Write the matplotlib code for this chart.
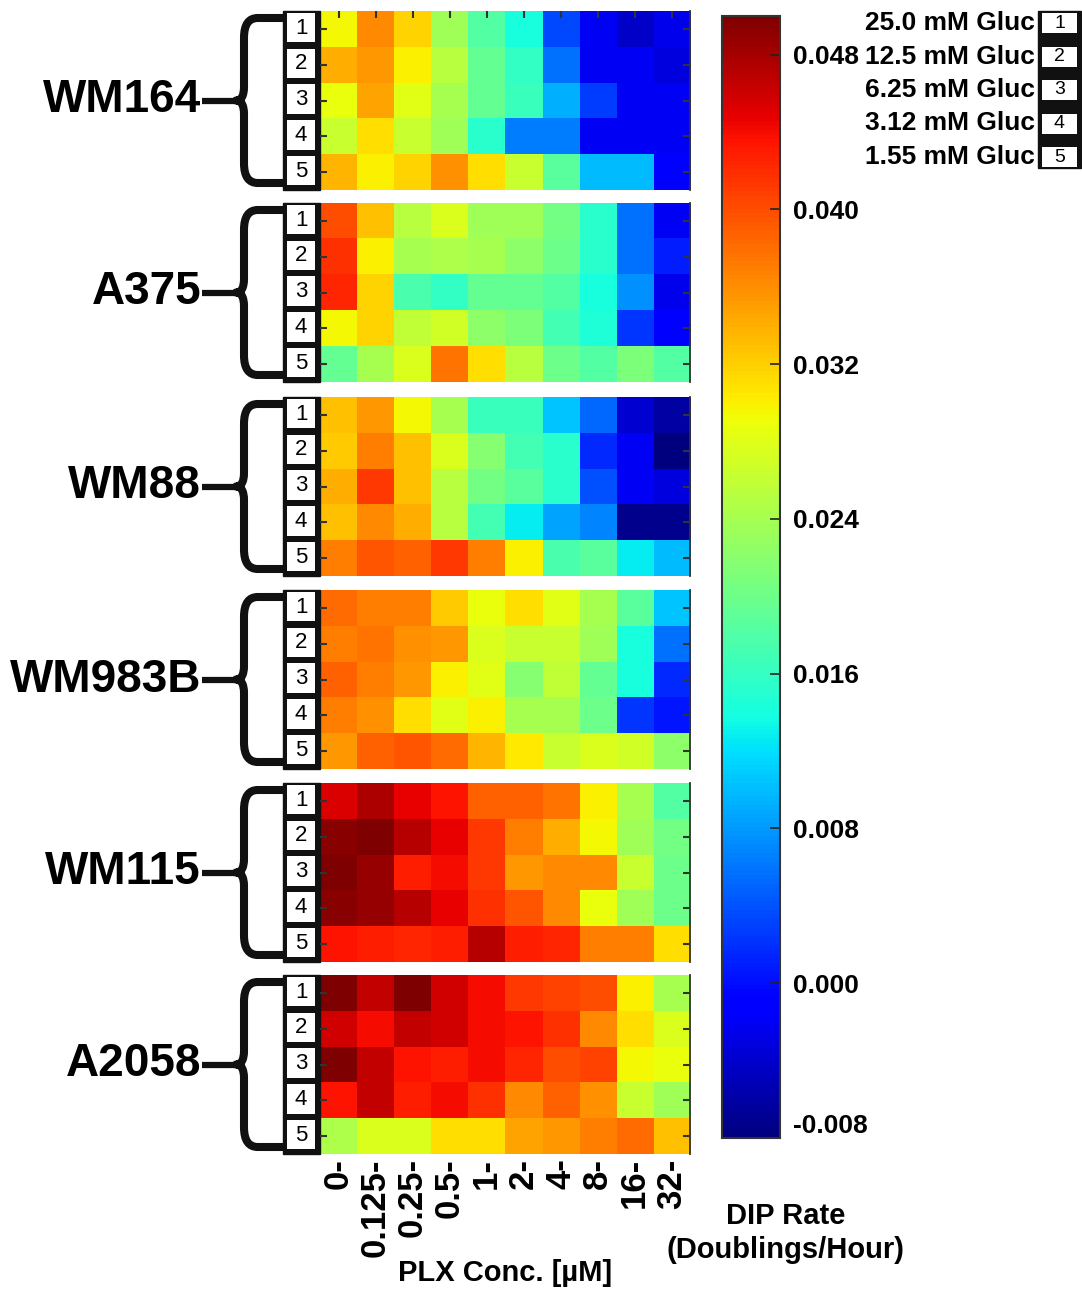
import numpy as np
import matplotlib
matplotlib.use("Agg")
import matplotlib.pyplot as plt
from matplotlib.patches import Rectangle, PathPatch
from matplotlib.path import Path

plt.rcParams['font.family'] = ['Liberation Sans', 'DejaVu Sans']

### DATA
cellLines = ["WM164", "A375", "WM88", "WM983B", "WM115", "A2058"]
glucose = ["25.0 mM Gluc", "12.5 mM Gluc", "6.25 mM Gluc", "3.12 mM Gluc", "1.55 mM Gluc"]
plxConc = ["0", "0.125", "0.25", "0.5", "1", "2", "4", "8", "16", "32"]
cbarTicks = [-0.008, 0.000, 0.008, 0.016, 0.024, 0.032, 0.040, 0.048]

# DIP rate [doublings/hour]: rows = glucose level (1-5), columns = PLX concentration
dipWM164 = [
    [0.0294, 0.0364, 0.0317, 0.0235, 0.0181, 0.0140, 0.0034, -0.0019, -0.0043, -0.0025],
    [0.0341, 0.0353, 0.0299, 0.0252, 0.0193, 0.0158, 0.0058, -0.0019, -0.0019, -0.0031],
    [0.0288, 0.0347, 0.0282, 0.0240, 0.0193, 0.0164, 0.0093, 0.0028, -0.0019, -0.0019],
    [0.0264, 0.0311, 0.0264, 0.0235, 0.0152, 0.0063, 0.0063, -0.0019, -0.0019, -0.0019],
    [0.0335, 0.0299, 0.0317, 0.0358, 0.0311, 0.0264, 0.0187, 0.0099, 0.0099, -0.0013],
]
dipA375 = [
    [0.0400, 0.0329, 0.0252, 0.0276, 0.0235, 0.0235, 0.0205, 0.0152, 0.0058, -0.0019],
    [0.0417, 0.0299, 0.0240, 0.0246, 0.0240, 0.0223, 0.0199, 0.0152, 0.0058, 0.0010],
    [0.0423, 0.0317, 0.0176, 0.0158, 0.0193, 0.0193, 0.0181, 0.0140, 0.0075, -0.0025],
    [0.0294, 0.0317, 0.0258, 0.0270, 0.0223, 0.0211, 0.0170, 0.0146, 0.0022, -0.0007],
    [0.0193, 0.0240, 0.0276, 0.0376, 0.0311, 0.0252, 0.0199, 0.0181, 0.0211, 0.0181],
]
dipWM88 = [
    [0.0329, 0.0353, 0.0294, 0.0240, 0.0164, 0.0164, 0.0105, 0.0052, -0.0037, -0.0061],
    [0.0323, 0.0370, 0.0329, 0.0276, 0.0217, 0.0170, 0.0152, 0.0016, -0.0019, -0.0090],
    [0.0341, 0.0412, 0.0329, 0.0252, 0.0205, 0.0187, 0.0152, 0.0040, -0.0019, -0.0031],
    [0.0329, 0.0364, 0.0341, 0.0252, 0.0170, 0.0128, 0.0087, 0.0069, -0.0072, -0.0072],
    [0.0370, 0.0394, 0.0388, 0.0412, 0.0370, 0.0299, 0.0176, 0.0187, 0.0128, 0.0099],
]
dipWM983B = [
    [0.0382, 0.0370, 0.0370, 0.0323, 0.0288, 0.0311, 0.0282, 0.0240, 0.0187, 0.0105],
    [0.0370, 0.0376, 0.0358, 0.0353, 0.0276, 0.0264, 0.0264, 0.0235, 0.0140, 0.0058],
    [0.0388, 0.0370, 0.0353, 0.0299, 0.0282, 0.0217, 0.0258, 0.0193, 0.0140, 0.0016],
    [0.0370, 0.0358, 0.0311, 0.0282, 0.0299, 0.0240, 0.0240, 0.0199, 0.0022, 0.0004],
    [0.0353, 0.0388, 0.0394, 0.0382, 0.0335, 0.0305, 0.0264, 0.0276, 0.0270, 0.0223],
]
dipWM115 = [
    [0.0453, 0.0476, 0.0447, 0.0435, 0.0388, 0.0388, 0.0376, 0.0299, 0.0240, 0.0181],
    [0.0494, 0.0500, 0.0471, 0.0447, 0.0412, 0.0370, 0.0341, 0.0294, 0.0235, 0.0205],
    [0.0500, 0.0488, 0.0429, 0.0441, 0.0412, 0.0353, 0.0364, 0.0364, 0.0264, 0.0199],
    [0.0494, 0.0488, 0.0471, 0.0447, 0.0417, 0.0394, 0.0364, 0.0288, 0.0235, 0.0199],
    [0.0435, 0.0429, 0.0423, 0.0429, 0.0471, 0.0429, 0.0423, 0.0370, 0.0370, 0.0311],
]
dipA2058 = [
    [0.0500, 0.0465, 0.0500, 0.0459, 0.0441, 0.0412, 0.0406, 0.0400, 0.0299, 0.0240],
    [0.0459, 0.0441, 0.0465, 0.0459, 0.0441, 0.0435, 0.0417, 0.0364, 0.0311, 0.0276],
    [0.0500, 0.0465, 0.0435, 0.0429, 0.0441, 0.0423, 0.0400, 0.0406, 0.0294, 0.0288],
    [0.0435, 0.0465, 0.0429, 0.0441, 0.0417, 0.0364, 0.0388, 0.0358, 0.0264, 0.0235],
    [0.0246, 0.0276, 0.0276, 0.0311, 0.0311, 0.0347, 0.0353, 0.0370, 0.0382, 0.0329],
]
dipData = [dipWM164, dipA375, dipWM88, dipWM983B, dipWM115, dipA2058]

### LAYOUT (pixels)
W, H = 1082, 1289
vmin, vmax = -0.008, 0.050
panelTops = [11, 203, 397, 590, 783, 975]
panelH = 179
mapLeft, mapRight = 320, 690


def box(x0, y0, x1, y1):
    """Pixel box (top-left origin) -> figure fraction rect."""
    return [x0 / W, 1 - y1 / H, (x1 - x0) / W, (y1 - y0) / H]


def brace(ax, top, bottom):
    """Curly brace to the left of a panel with a stub pointing at the cell line name."""
    mid = (top + bottom) / 2
    t, b = top + 7, bottom - 7
    xe, xv, xt = 284, 244, 236
    verts = [(xe, t), (258, t),
             (249, t), (xv, t + 6), (xv, t + 20),
             (xv, mid - 14),
             (xv, mid - 4), (241, mid), (xt, mid),
             (241, mid), (xv, mid + 4), (xv, mid + 14),
             (xv, b - 20),
             (xv, b - 6), (249, b), (258, b),
             (xe, b)]
    codes = [Path.MOVETO, Path.LINETO,
             Path.CURVE4, Path.CURVE4, Path.CURVE4,
             Path.LINETO,
             Path.CURVE4, Path.CURVE4, Path.CURVE4,
             Path.CURVE4, Path.CURVE4, Path.CURVE4,
             Path.LINETO,
             Path.CURVE4, Path.CURVE4, Path.CURVE4,
             Path.LINETO]
    ax.add_patch(PathPatch(Path(verts, codes), fill=False, lw=5.8, color="#111111",
                           capstyle="butt", joinstyle="round"))
    ax.plot([202, xt + 2], [mid, mid], color="#111111", lw=4.5, solid_capstyle="butt")
    return mid


fig = plt.figure(figsize=(W / 100, H / 100), dpi=100)

# Full-figure overlay for braces, names and the glucose legend
ov = fig.add_axes([0, 0, 1, 1])
ov.set_xlim(0, W)
ov.set_ylim(H, 0)
ov.axis("off")

for name, top in zip(cellLines, panelTops):
    mid = brace(ov, top, top + panelH)
    ov.text(201, mid, name, ha="right", va="center", fontsize=33, fontweight="bold")

# Glucose legend
ov.add_patch(Rectangle((1038, 11), 43, 157, color="#111111"))
for i, g in enumerate(glucose):
    y = 23 + i * 33.5
    ov.text(1035, y, g, ha="right", va="center", fontsize=19, fontweight="bold")
    ov.add_patch(Rectangle((1042, y - 10), 35, 20, facecolor="white", edgecolor="none"))
    ov.text(1059.5, y, str(i + 1), ha="center", va="center", fontsize=14)

# Heatmaps
for k, (data, top) in enumerate(zip(dipData, panelTops)):
    ax = fig.add_axes(box(mapLeft, top, mapRight, top + panelH))
    im = ax.imshow(np.array(data), cmap="jet", vmin=vmin, vmax=vmax, aspect="auto",
                   interpolation="nearest", extent=(0, 10, 5, 0))
    ax.set_xlim(0, 10)
    ax.set_ylim(5, 0)

    for s in ("top", "bottom", "left"):
        ax.spines[s].set_visible(False)
    ax.spines["right"].set_color("#333333")
    ax.spines["right"].set_linewidth(1.3)

    ax.set_yticks(np.arange(5) + 0.5)
    ax.set_yticklabels([])
    ax.tick_params(axis="y", left=True, right=True, direction="in", length=5, width=1.5,
                   color="#333333", labelleft=False)

    ax.set_xticks(np.arange(10) + 0.5)
    if k == 0:
        ax.tick_params(axis="x", top=True, bottom=False, direction="in", length=5, width=1.5,
                       color="#333333", labelbottom=False)
    elif k == len(dipData) - 1:
        ax.set_xticklabels([c + "-" for c in plxConc], rotation=90, fontsize=25,
                           fontweight="bold", va="top")
        ax.tick_params(axis="x", bottom=False, top=False, length=0, pad=3, labelbottom=True)
        ax.set_xlabel("PLX Conc. [µM]", fontsize=21, fontweight="bold", labelpad=2)
    else:
        ax.tick_params(axis="x", bottom=False, top=False, labelbottom=False)

    # Glucose row markers on the left edge
    ax.add_patch(Rectangle((-1.0, 0), 1.0, 5, color="#111111", clip_on=False))
    for r in range(5):
        ax.add_patch(Rectangle((-0.89, r + 0.05), 0.76, 0.82, facecolor="white",
                               edgecolor="none", clip_on=False))
        ax.text(-0.51, r + 0.48, str(r + 1), ha="center", va="center", fontsize=16,
                clip_on=False)

# Colorbar
cax = fig.add_axes(box(722, 16, 780, 1138))
cb = fig.colorbar(im, cax=cax, ticks=cbarTicks)
cb.set_ticklabels([f"{t:.3f}" for t in cbarTicks])
cb.outline.set_linewidth(1.5)
cb.outline.set_edgecolor("#333333")
cb.ax.tick_params(direction="in", length=7, width=1.2, color="#222222", labelsize=19, pad=9)
for lab in cb.ax.get_yticklabels():
    lab.set_fontweight("bold")
cb.ax.get_yticklabels()[0].set_verticalalignment("bottom")

fig.text(786 / W, 1 - 1233 / H, "DIP Rate\n(Doublings/Hour)", ha="center", va="center",
         fontsize=21, fontweight="bold", linespacing=1.3)

fig.savefig("out.png", dpi=100)
